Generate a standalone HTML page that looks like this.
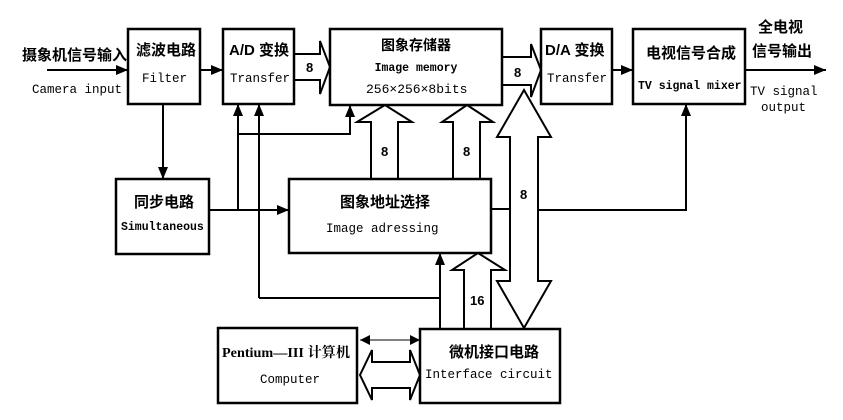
<!DOCTYPE html>
<html><head><meta charset="utf-8"><style>
html,body{margin:0;padding:0;background:#fff;}
svg{display:block}
.cn{font-family:"Liberation Sans","Noto Sans CJK SC",sans-serif;font-weight:bold;font-size:15px;fill:#000}
.en{font-family:"Liberation Mono",monospace;font-size:12.5px;fill:#000}
.n{font-family:"Liberation Sans",sans-serif;font-weight:bold;font-size:13px;fill:#000}
</style></head><body>
<svg width="843" height="420" viewBox="0 0 843 420" xmlns="http://www.w3.org/2000/svg">
<defs>
<marker id="a" markerWidth="10" markerHeight="10" refX="10" refY="5" orient="auto-start-reverse" markerUnits="userSpaceOnUse" viewBox="0 0 10 10"><path d="M0,0 L10,5 L0,10z" fill="#000"/></marker>
<marker id="b" markerWidth="12" markerHeight="10" refX="12" refY="5" orient="auto" markerUnits="userSpaceOnUse" viewBox="0 0 12 10"><path d="M0,0 L12,5 L0,10z" fill="#000"/></marker>
</defs>
<g fill="none" stroke="#000" stroke-width="2.5">
<rect x="128" y="29" width="72" height="75"/>
<rect x="223" y="29" width="71" height="75"/>
<rect x="330" y="29" width="172" height="76"/>
<rect x="541" y="29" width="71" height="75"/>
<rect x="633" y="29" width="112" height="75"/>
<rect x="116" y="179" width="93" height="75"/>
<rect x="289" y="179" width="202" height="74"/>
<rect x="218" y="328" width="139" height="75"/>
<rect x="420" y="329" width="140" height="74"/>
</g>
<g fill="none" stroke="#000" stroke-width="2">
<line x1="47" y1="70" x2="128" y2="70" marker-end="url(#b)"/>
<line x1="200" y1="70" x2="223" y2="70" marker-end="url(#b)"/>
<line x1="612" y1="70" x2="633" y2="70" marker-end="url(#b)"/>
<line x1="745" y1="70" x2="826" y2="70" marker-end="url(#b)"/>
<line x1="163" y1="104" x2="163" y2="179" marker-end="url(#b)"/>
<line x1="209" y1="210" x2="289" y2="210" marker-end="url(#b)"/>
<polyline points="238,210 238,104" marker-end="url(#b)"/>
<polyline points="238,134 350,134 350,105" marker-end="url(#b)"/>
<polyline points="259,298 259,104" marker-end="url(#b)"/>
<polyline points="259,298 440,298"/>
<polyline points="440,329 440,253" marker-end="url(#b)"/>
<polyline points="491,209 510,209"/>
<polyline points="538,210 686,210 686,104" marker-end="url(#b)"/>
<line x1="360" y1="340" x2="420" y2="340" marker-start="url(#a)" marker-end="url(#a)" stroke-width="1"/>
<polyline points="294,54 320,54 320,41 330,67 320,94 320,80 294,80"/>
<polyline points="502,57 531,57 531,44 541,70 531,97 531,85 502,85"/>
<polyline points="371,179 371,122 357,122 385,105 412,122 398,122 398,179"/>
<polyline points="453,179 453,122 442,122 467,105 493,122 480,122 480,179"/>
<polygon points="510,137 497,137 524,90 551,137 538,137 538,281 551,281 524,328 497,281 510,281" fill="#fff"/>
<polyline points="464,329 464,270 452,270 478,253 505,270 491,270 491,329"/>
<polygon points="372,362 410,362 410,350 420,375 410,400 410,388 372,388 372,400 360,375 372,350"/>
</g>
<text class="cn" x="22" y="60">摄象机信号输入</text>
<text class="en" x="32" y="93">Camera input</text>
<text class="cn" x="136" y="55">滤波电路</text>
<text class="en" x="142" y="82">Filter</text>
<text class="cn" x="229" y="55">A/D 变换</text>
<text class="en" x="230" y="82">Transfer</text>
<text class="n" x="306" y="72">8</text>
<text class="cn" x="416" y="50" text-anchor="middle" style="font-size:14px">图象存储器</text>
<text class="en" x="416" y="71" text-anchor="middle" style="font-size:11.5px;font-weight:bold">Image memory</text>
<text class="en" x="366" y="93" style="font-size:13px">256×256×8bits</text>
<text class="n" x="514" y="77">8</text>
<text class="cn" x="545" y="55">D/A 变换</text>
<text class="en" x="547" y="82">Transfer</text>
<text class="cn" x="646" y="58">电视信号合成</text>
<text class="en" x="638" y="89" style="font-size:11.5px;font-weight:bold">TV signal mixer</text>
<text class="cn" x="758" y="32">全电视</text>
<text class="cn" x="752" y="56">信号输出</text>
<text class="en" x="750" y="95">TV signal</text>
<text class="en" x="761" y="111">output</text>
<text class="cn" x="134" y="207">同步电路</text>
<text class="en" x="121" y="230" style="font-size:11.5px;font-weight:bold">Simultaneous</text>
<text class="cn" x="340" y="207">图象地址选择</text>
<text class="en" x="326" y="232">Image adressing</text>
<text class="n" x="381" y="156">8</text>
<text class="n" x="463" y="156">8</text>
<text class="n" x="520" y="199">8</text>
<text class="n" x="470" y="305">16</text>
<text class="cn" x="222" y="357" style="font-family:'Liberation Serif','Noto Serif CJK SC',serif;font-size:14px" textLength="128" lengthAdjust="spacingAndGlyphs">Pentium—III 计算机</text>
<text class="en" x="260" y="383">Computer</text>
<text class="cn" x="449" y="357">微机接口电路</text>
<text class="en" x="425" y="378">Interface circuit</text>
</svg>
</body></html>
